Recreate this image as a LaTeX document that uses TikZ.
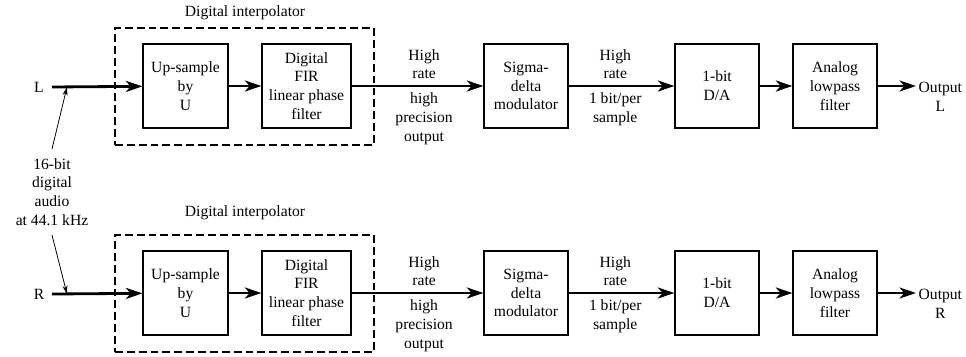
\documentclass[tikz,border=0pt]{standalone}
\usepackage{fontspec}
\setmainfont{Liberation Serif}
\usetikzlibrary{arrows.meta,positioning,calc}

\begin{document}
\begin{tikzpicture}[
    x=0.64pt, y=-0.64pt,
    blk/.style={draw,line width=0.8pt,minimum width=53.8pt,minimum height=53.8pt,align=center,inner sep=1pt},
    grp/.style={draw,line width=0.8pt,dash pattern=on 5pt off 2.6pt,minimum width=165.8pt,minimum height=74.9pt},
    lbl/.style={align=center,inner sep=1.5pt},
    elbl/.style={align=center,inner sep=3.5pt},
    sig/.style={line width=1.8pt,-{Stealth[length=10.5pt,width=7pt,inset=3pt]}},
    tap/.style={line width=0.5pt,-{Stealth[length=5.5pt,width=3.2pt]}},
    font=\fontsize{10}{12}\selectfont
]
\useasboundingbox (0,0) rectangle (966,356);

\foreach \ch/\dy/\ty in {L/0/13,R/207/213}{
  % one channel
  \node[grp] (int\ch) at (244.5,{86.5+\dy}) {};
  \node[lbl] at (245,\ty) {Digital interpolator};
  \node[lbl] (in\ch) at (39,{87+\dy}) {\ch};
  \coordinate (start\ch) at (52,{87+\dy});
  \coordinate (tap\ch) at (67,{87+\dy});
  \node[blk,minimum width=54.4pt] (up\ch) at (185.5,{86+\dy}) {Up-sample\\by\\U};
  \node[blk,minimum width=57pt] (fir\ch) at (306.5,{86+\dy}) {Digital\\FIR\\linear phase\\filter};
  \node[blk] (sd\ch) at (526,{86+\dy}) {Sigma-\\delta\\modulator};
  \node[blk] (da\ch) at (717,{86+\dy}) {1-bit\\D/A};
  \node[blk] (lp\ch) at (835,{86+\dy}) {Analog\\lowpass\\filter};
  \node[lbl,anchor=west] (out\ch) at (916,{97+\dy}) {Output\\\ch};
  \draw[sig] (start\ch) -- (up\ch);
  \draw[sig] (up\ch) -- (fir\ch);
  \draw[sig] (fir\ch) -- (sd\ch)
    node[elbl,pos=0.55,above] {High\\rate}
    node[elbl,pos=0.55,below] {high\\precision\\output};
  \draw[sig] (sd\ch) -- (da\ch)
    node[elbl,midway,xshift=-4pt,above] {High\\rate}
    node[elbl,midway,xshift=-4pt,below] {1 bit/per\\sample};
  \draw[sig] (da\ch) -- (lp\ch);
  \draw[sig] (lp\ch.east) -- (lp\ch.east -| out\ch.west);
}

\node[align=center,inner sep=0pt,outer ysep=6pt] (src) at (52,192) {16-bit\\digital\\audio\\at 44.1 kHz};
\draw[tap] (src.north) -- (tapL);
\draw[tap] (src.south) -- (tapR);
\end{tikzpicture}
\end{document}
